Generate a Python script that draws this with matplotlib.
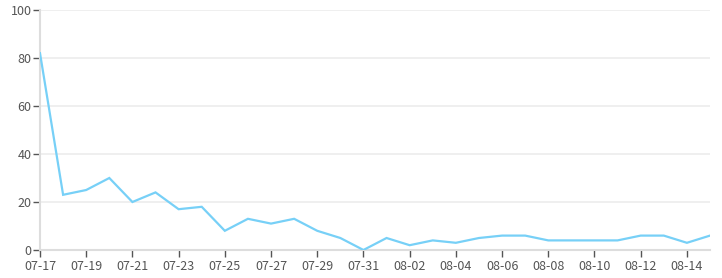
import matplotlib
matplotlib.use("Agg")
import matplotlib.pyplot as plt
import numpy as np

# daily values, 07-17 .. 08-15
dates = ["07-17", "07-18", "07-19", "07-20", "07-21", "07-22", "07-23", "07-24",
         "07-25", "07-26", "07-27", "07-28", "07-29", "07-30", "07-31", "08-01",
         "08-02", "08-03", "08-04", "08-05", "08-06", "08-07", "08-08", "08-09",
         "08-10", "08-11", "08-12", "08-13", "08-14", "08-15"]
values = [82, 23, 25, 30, 20, 24, 17, 18, 8, 13, 11, 13, 8, 5, 0, 5,
          2, 4, 3, 5, 6, 6, 4, 4, 4, 4, 6, 6, 3, 6]
y_ticks = [0, 20, 40, 60, 80, 100]

plt.rcParams['font.family'] = ['Noto Sans CJK SC', 'DejaVu Sans']

W, H = 722, 278
fig = plt.figure(figsize=(W / 100, H / 100), dpi=100)
ax = fig.add_axes([40 / W, 28 / H, 670 / W, 240 / H])

x = np.arange(len(dates))
ax.plot(x, values, color="#77d0f7", linewidth=1.6, solid_joinstyle="miter", zorder=3)

ax.set_xlim(0, len(dates) - 1)
ax.set_ylim(0, 100)
ax.set_yticks(y_ticks)
ax.set_xticks(x[::2])
ax.set_xticklabels(dates[::2])

# light horizontal grid
ax.yaxis.grid(True, color="#eeeeee", linewidth=1.3)
ax.set_axisbelow(True)

for side in ["top", "right"]:
    ax.spines[side].set_visible(False)
ax.spines["left"].set_color("#dddddd")
ax.spines["left"].set_linewidth(1.5)
ax.spines["bottom"].set_color("#dddddd")
ax.spines["bottom"].set_linewidth(1.5)

ax.tick_params(axis="both", colors="#555555", labelsize=9, length=5, width=1)
ax.tick_params(axis="x", pad=2)
ax.tick_params(axis="y", pad=1)
for t in ax.get_xticklines() + ax.get_yticklines():
    t.set_color("#555555")

fig.savefig("out.png", dpi=100)
